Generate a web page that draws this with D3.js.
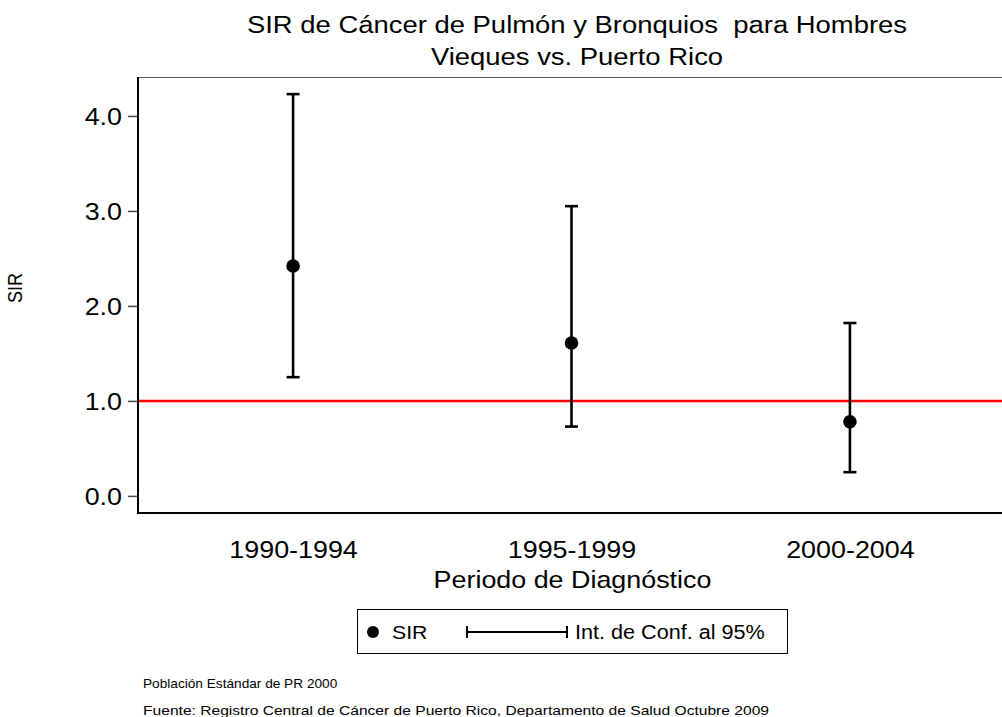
<!DOCTYPE html>
<html>
<head>
<meta charset="utf-8">
<script src="https://cdn.jsdelivr.net/npm/d3@7"></script>
<style>
  html, body { margin: 0; padding: 0; background: #fff; }
  svg { display: block; font-family: "Liberation Sans", Arial, sans-serif; }
  svg text { white-space: pre; }
</style>
</head>
<body>
<svg id="chart" width="1002" height="717"></svg>
<script>
// Diagnosis periods and standardized incidence ratios with 95% confidence limits
const periods = ["1990-1994", "1995-1999", "2000-2004"];
const sirValues = [2.42, 1.61, 0.78];
const ciLower = [1.25, 0.73, 0.25];
const ciUpper = [4.23, 3.05, 1.82];
const yTicks = [0, 1, 2, 3, 4];
const referenceValue = 1.0;

const titleLines = ["SIR de Cáncer de Pulmón y Bronquios  para Hombres", "Vieques vs. Puerto Rico"];
const footnotes = ["Población Estándar de PR 2000",
  "Fuente: Registro Central de Cáncer de Puerto Rico, Departamento de Salud Octubre 2009"];

const svg = d3.select("#chart");
const stretch = 1.12; // text is drawn slightly wide

const plot = { left: 138, right: 1005, top: 77, bottom: 513 };

const x = d3.scalePoint().domain(periods).range([plot.left, plot.right]).padding(0.557);
const y = d3.scaleLinear().domain([-0.18, 4.41]).range([plot.bottom, plot.top]);

function wideText(g, tx, ty, str, size, anchor, rotate, sx) {
  return g.append("text")
    .attr("transform", `translate(${tx},${ty}) scale(${sx || stretch},1)` + (rotate ? ` rotate(${rotate})` : ""))
    .attr("text-anchor", anchor)
    .attr("font-size", size)
    .attr("fill", "#000")
    .text(str);
}

// top border of the plot area
svg.append("line")
  .attr("x1", plot.left).attr("x2", 1002)
  .attr("y1", plot.top + 0.5).attr("y2", plot.top + 0.5)
  .attr("stroke", "#555").attr("stroke-width", 1);

// y axis ticks and labels
const yAxis = d3.axisLeft(y).tickValues(yTicks).tickFormat(d3.format(".1f")).tickSize(10).tickSizeOuter(0);
const gy = svg.append("g").attr("transform", `translate(${plot.left},0)`).call(yAxis);
gy.select(".domain").remove();
gy.selectAll(".tick line").attr("stroke", "#444").attr("stroke-width", 1.5);
gy.selectAll(".tick text")
  .attr("font-size", 24)
  .attr("font-family", "Liberation Sans, Arial, sans-serif")
  .attr("fill", "#000")
  .attr("x", -14.3)
  .attr("dy", "0.36em")
  .attr("transform", `scale(${stretch},1)`);

// x axis labels
const xAxis = d3.axisBottom(x).tickSize(0).tickSizeOuter(0);
const gx = svg.append("g").attr("transform", `translate(0,${plot.bottom})`).call(xAxis);
gx.select(".domain").remove();
gx.selectAll(".tick text")
  .attr("font-size", 24)
  .attr("font-family", "Liberation Sans, Arial, sans-serif")
  .attr("fill", "#000")
  .attr("y", 0)
  .attr("dy", 0)
  .attr("transform", `translate(0,45) scale(${stretch},1)`);

// axis lines
svg.append("line")
  .attr("x1", plot.left).attr("x2", plot.left)
  .attr("y1", plot.top).attr("y2", plot.bottom + 1)
  .attr("stroke", "#000").attr("stroke-width", 2);
svg.append("line")
  .attr("x1", plot.left - 1).attr("x2", 1002)
  .attr("y1", plot.bottom).attr("y2", plot.bottom)
  .attr("stroke", "#000").attr("stroke-width", 2);

// reference line at SIR = 1
svg.append("line")
  .attr("x1", plot.left + 1).attr("x2", 1002)
  .attr("y1", y(referenceValue)).attr("y2", y(referenceValue))
  .attr("stroke", "#ff0000").attr("stroke-width", 2.5);

// confidence intervals
const rows = periods.map((p, i) => ({ p, v: sirValues[i], lo: ciLower[i], hi: ciUpper[i] }));
const capHalf = 6.5;
const bars = svg.append("g").attr("stroke", "#000").attr("stroke-width", 2.6);
bars.selectAll("line.stem").data(rows).join("line").attr("class", "stem")
  .attr("x1", d => x(d.p)).attr("x2", d => x(d.p))
  .attr("y1", d => y(d.lo)).attr("y2", d => y(d.hi));
bars.selectAll("line.capHi").data(rows).join("line").attr("class", "capHi")
  .attr("x1", d => x(d.p) - capHalf).attr("x2", d => x(d.p) + capHalf)
  .attr("y1", d => y(d.hi)).attr("y2", d => y(d.hi));
bars.selectAll("line.capLo").data(rows).join("line").attr("class", "capLo")
  .attr("x1", d => x(d.p) - capHalf).attr("x2", d => x(d.p) + capHalf)
  .attr("y1", d => y(d.lo)).attr("y2", d => y(d.lo));

// SIR points
svg.append("g").selectAll("circle").data(rows).join("circle")
  .attr("cx", d => x(d.p)).attr("cy", d => y(d.v)).attr("r", 6.8)
  .attr("fill", "#000");

// titles
wideText(svg, 577, 33, titleLines[0], 24.5, "middle");
wideText(svg, 577, 65, titleLines[1], 24.5, "middle");
wideText(svg, 572.5, 588, "Periodo de Diagnóstico", 24, "middle");
wideText(svg, 22, 288, "SIR", 18, "middle", -90);

// legend
const lg = svg.append("g");
lg.append("rect").attr("x", 357.5).attr("y", 609.5).attr("width", 430).attr("height", 44)
  .attr("fill", "#fff").attr("stroke", "#000").attr("stroke-width", 1);
lg.append("circle").attr("cx", 373).attr("cy", 632).attr("r", 6).attr("fill", "#000");
wideText(lg, 392, 639, "SIR", 19, "start");
lg.append("line").attr("x1", 467).attr("x2", 567).attr("y1", 632).attr("y2", 632)
  .attr("stroke", "#000").attr("stroke-width", 2);
[467, 567].forEach(cx => lg.append("line").attr("x1", cx).attr("x2", cx)
  .attr("y1", 626).attr("y2", 638).attr("stroke", "#000").attr("stroke-width", 2));
wideText(lg, 575, 639, "Int. de Conf. al 95%", 19.3, "start");

// footnotes
wideText(svg, 143, 688, footnotes[0], 12.2, "start");
wideText(svg, 143, 715, footnotes[1], 12.5, "start", null, 1.25);
</script>
</body>
</html>
